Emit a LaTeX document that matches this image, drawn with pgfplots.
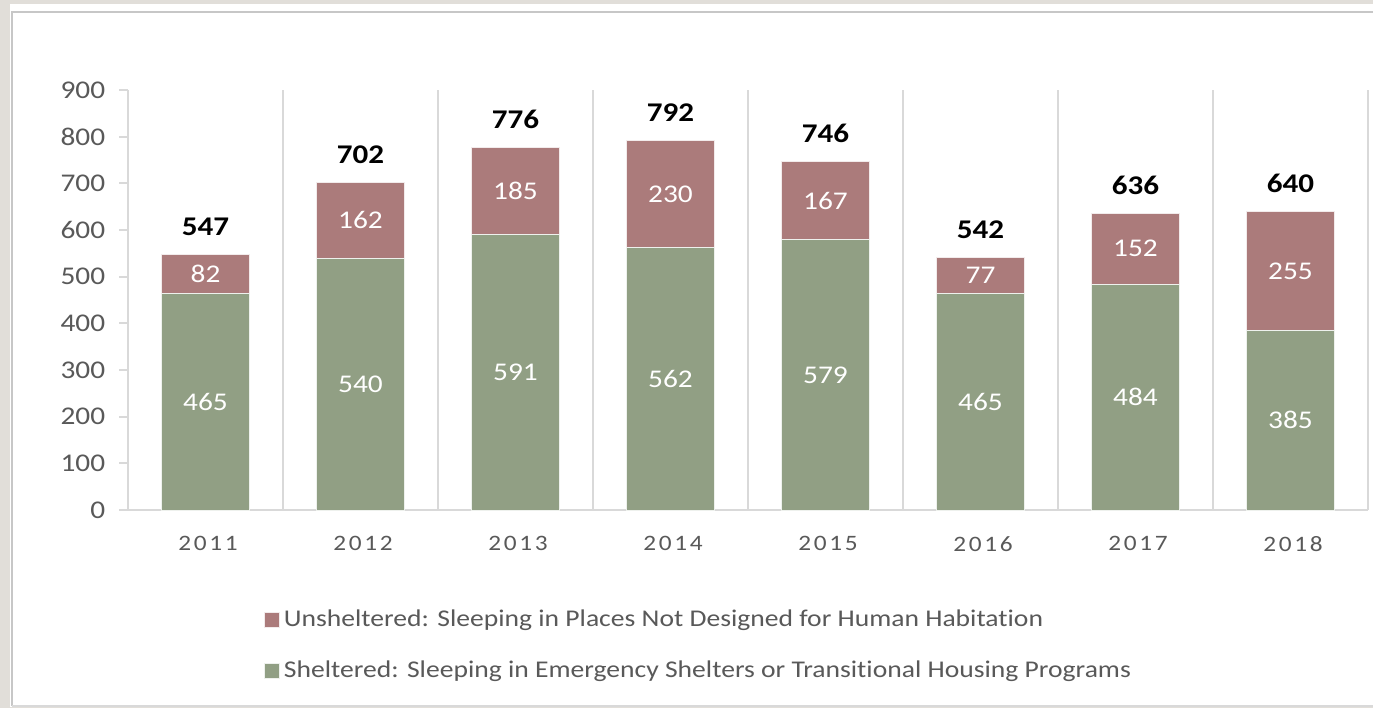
\documentclass[border=0pt]{standalone}
\usepackage{pgfplots}
\pgfplotsset{compat=1.18}
\usepackage{pgfplotstable}
\usepackage{fontspec}
\setmainfont{Carlito}[FakeStretch=1.15, Ligatures=NoCommon]
\newfontfamily\spaced{Carlito}[FakeStretch=1.15, LetterSpace=12]
\definecolor{shgreen}{HTML}{919F84}
\definecolor{unred}{HTML}{AB7B7B}
\definecolor{txtgray}{HTML}{595959}
\definecolor{linegray}{HTML}{D9D9D9}
\definecolor{framebg}{HTML}{E1DED9}
\pgfplotstableread{
x year g u t
0 2011 465 82 547
1 2012 540 162 702
2 2013 591 185 776
3 2014 562 230 792
4 2015 579 167 746
5 2016 465 77 542
6 2017 484 152 636
7 2018 385 255 640
}\data
\begin{document}
\begin{tikzpicture}[x=0.4pt,y=0.4pt]
\fill[framebg] (0,0) rectangle (1373,708);
\fill[white] (10,1) rectangle (1373,704);
\draw[linegray!80!gray, line width=0.8pt] (12,2) -- (12,696) -- (1373,696);
\draw[linegray, line width=0.8pt] (12,2) -- (1373,2);
\begin{axis}[
  at={(128*0.4pt,198*0.4pt)}, anchor=south west,
  scale only axis, width=496pt, height=168pt,
  xmin=-0.5, xmax=7.5, ymin=0, ymax=900,
  axis lines=left, axis line style={-, draw=linegray, line width=0.8pt},
  xtick={0,...,7},
  xticklabels={2011,2012,2013,2014,2015,2016,2017,2018},
  x tick label style={font=\fontsize{8.8}{10}\spaced, text=txtgray, yshift=-3.5pt, xshift=1pt},
  major x tick style={draw=none},
  extra x ticks={0.5,1.5,2.5,3.5,4.5,5.5,6.5,7.5},
  extra x tick labels={},
  extra x tick style={grid=major, major grid style={draw=linegray, line width=0.8pt}, major tick length=0pt},
  ytick={0,100,...,900},
  y tick label style={font=\fontsize{10.2}{11}\selectfont, text=txtgray, xshift=-2pt},
  /pgf/number format/assume math mode=true,
  yticklabel style={/pgf/number format/1000 sep={}},
  tick align=outside,
  major y tick style={draw=linegray, line width=0.8pt},
  major tick length=3.6pt,
  clip=false,
  legend style={at={(rel axis cs:0.1094,-0.227)}, anchor=north west, draw=none, fill=none,
    font=\fontsize{9.6}{11}\selectfont, text=txtgray, row sep=9.3pt, inner sep=0pt,
    nodes={inner sep=1.5pt}},
  legend cell align=left,
  legend image code/.code={\fill[#1] (0pt,-3pt) rectangle (6pt,3pt);},
]
\addplot[ybar, bar width=35.2pt, bar shift=0pt, fill=unred, draw=white!85!unred, line width=0.4pt] table[x=x, y=t] {\data};
\addlegendentry{Unsheltered: Sleeping in Places Not Designed for Human Habitation}
\addplot[ybar, bar width=35.2pt, bar shift=0pt, fill=shgreen, draw=white!85!shgreen, line width=0.4pt] table[x=x, y=g] {\data};
\addlegendentry{Sheltered: Sleeping in Emergency Shelters or Transitional Housing Programs}
\addplot[forget plot, draw=none, mark=none, point meta=explicit,
  nodes near coords, every node near coord/.style={anchor=center, text=white, font=\fontsize{10.2}{11}\selectfont}]
  table[x=x, y expr=\thisrow{g}/2, meta=g] {\data};
\addplot[forget plot, draw=none, mark=none, point meta=explicit,
  nodes near coords, every node near coord/.style={anchor=center, text=white, font=\fontsize{10.2}{11}\selectfont}]
  table[x=x, y expr=\thisrow{g}+\thisrow{u}/2, meta=u] {\data};
\addplot[forget plot, draw=none, mark=none, point meta=explicit,
  nodes near coords, every node near coord/.style={anchor=south, yshift=4pt, text=black, font=\fontsize{10.8}{12}\selectfont\bfseries}]
  table[x=x, y=t, meta=t] {\data};
\end{axis}
\pgfresetboundingbox
\path (0,0) rectangle (1373,708);
\end{tikzpicture}
\end{document}
